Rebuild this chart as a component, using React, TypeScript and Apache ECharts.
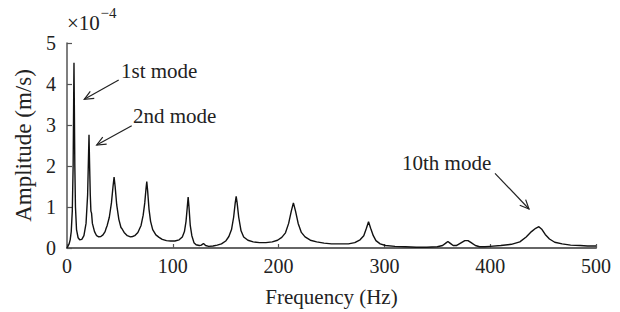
import React, { useEffect, useRef } from "react";
import * as echarts from "echarts";

// Frequency (Hz) and amplitude (×10^-4 m/s)
const freqHz: number[] = [
  0, 1, 2, 3, 4, 5, 5.8, 6.3, 6.6, 6.9, 7.4, 8, 9, 10.5, 12, 14, 16, 18, 19.5, 20.3,
  20.8, 21.3, 22, 22.6, 23.2, 24, 26, 28, 30, 32, 34, 36, 37, 38, 40, 42, 43.5, 44.5,
  45.5, 47, 49, 51, 52, 54, 57, 60, 62, 64, 67, 70, 72, 73.5, 74.7, 75.4, 76.2, 77.5,
  79, 81, 84, 87, 90, 94, 98, 102, 106, 109, 111, 112.5, 113.7, 114.5, 115.3, 116.5,
  118, 120, 122, 125, 127, 129, 131, 134, 138, 142, 146, 150, 153, 155.5, 157.5, 159,
  159.9, 160.8, 162.3, 164.5, 167, 171, 176, 182, 188, 194, 199, 203, 206.5, 209.5,
  212, 214, 216, 218.5, 221.5, 225, 230, 236, 243, 250, 258, 266, 272, 277, 280.5,
  283, 285, 287, 289.5, 292, 296, 301, 310, 320, 330, 340, 350, 355, 358, 360, 362,
  365, 368, 372, 376, 379, 382, 386, 390, 395, 400, 410, 420, 428, 434, 439, 443, 446,
  449, 452, 456, 461, 468, 476, 485, 492, 500,
];
const amplitude: number[] = [
  0, 0.05, 0.1, 0.2, 0.4, 0.9, 2.0, 3.6, 4.52, 3.6, 2.0, 1.0, 0.45, 0.25, 0.2, 0.21, 0.3, 0.6, 1.3, 2.2,
  2.76, 2.1, 1.3, 0.9, 0.85, 0.6, 0.4, 0.3, 0.27, 0.28, 0.32, 0.4, 0.48, 0.55, 0.75, 1.1, 1.5, 1.73,
  1.5, 1.05, 0.7, 0.5, 0.47, 0.38, 0.3, 0.27, 0.28, 0.3, 0.38, 0.55, 0.8, 1.1, 1.45, 1.62, 1.4, 0.95,
  0.65, 0.45, 0.32, 0.26, 0.21, 0.18, 0.17, 0.17, 0.2, 0.27, 0.4, 0.65, 1.0, 1.24, 1.0, 0.55,
  0.3, 0.13, 0.08, 0.06, 0.07, 0.11, 0.06, 0.04, 0.05, 0.07, 0.1, 0.17, 0.28, 0.45, 0.75, 1.1,
  1.26, 1.1, 0.75, 0.42, 0.27, 0.19, 0.15, 0.13, 0.13, 0.15, 0.19, 0.26, 0.37, 0.6,
  0.9, 1.1, 0.9, 0.6, 0.38, 0.27, 0.19, 0.15, 0.12, 0.1, 0.1, 0.1, 0.13, 0.2, 0.3,
  0.48, 0.64, 0.48, 0.3, 0.18, 0.1, 0.06, 0.04, 0.03, 0.02, 0.02, 0.03, 0.06, 0.12, 0.16, 0.12,
  0.06, 0.06, 0.12, 0.18, 0.18, 0.13, 0.06, 0.03, 0.03, 0.04, 0.06, 0.09, 0.15, 0.27, 0.4, 0.48, 0.52,
  0.45, 0.33, 0.22, 0.14, 0.1, 0.07, 0.06, 0.05, 0.05,
];

const xTicks = { min: 0, max: 500, interval: 100 };
const yTicks = { min: 0, max: 5, interval: 1 };

const annotations = [
  { label: "1st mode", tx: 121, ty: 71, from: [118.7, 80], to: [84.3, 99.3] },
  { label: "2nd mode", tx: 133, ty: 116, from: [131.7, 125.7], to: [96.7, 145] },
  { label: "10th mode", tx: 402, ty: 163, from: [495, 173.3], to: [529, 209] },
];

const FONT = "'Liberation Serif', 'DejaVu Serif', serif";

function arrowElements(from: number[], to: number[]) {
  const dx = to[0] - from[0];
  const dy = to[1] - from[1];
  const ang = Math.atan2(dy, dx);
  const len = 10;
  const spread = 0.42;
  const a1 = [to[0] - len * Math.cos(ang - spread), to[1] - len * Math.sin(ang - spread)];
  const a2 = [to[0] - len * Math.cos(ang + spread), to[1] - len * Math.sin(ang + spread)];
  const style = { stroke: "#222", lineWidth: 1.2, fill: null };
  return [
    { type: "line", shape: { x1: from[0], y1: from[1], x2: to[0], y2: to[1] }, style },
    { type: "polyline", shape: { points: [a1, to, a2] }, style },
  ];
}

export default function App() {
  const ref = useRef<HTMLDivElement>(null);

  useEffect(() => {
    if (!ref.current) return;
    const chart = echarts.init(ref.current, null, { renderer: "svg" });
    const data = freqHz.map((f, i) => [f, amplitude[i]]);

    const graphics: any[] = [];
    annotations.forEach((a) => {
      graphics.push({
        type: "text",
        x: a.tx,
        y: a.ty,
        style: { text: a.label, font: `21px ${FONT}`, fill: "#222", textAlign: "left", textVerticalAlign: "middle" },
      });
      graphics.push(...arrowElements(a.from, a.to));
    });
    graphics.push({
      type: "text",
      x: 67,
      y: 23,
      style: { text: "×10", font: `21px ${FONT}`, fill: "#222", textAlign: "left", textVerticalAlign: "middle" },
    });
    graphics.push({
      type: "text",
      x: 100.5,
      y: 13,
      style: { text: "−4", font: `15px ${FONT}`, fill: "#222", textAlign: "left", textVerticalAlign: "middle" },
    });

    chart.setOption({
      animation: false,
      backgroundColor: "#fff",
      grid: { left: 67, right: 24, top: 43, bottom: 61, containLabel: false },
      xAxis: {
        type: "value",
        ...xTicks,
        name: "Frequency (Hz)",
        nameLocation: "middle",
        nameGap: 38,
        nameTextStyle: { fontFamily: FONT, fontSize: 21, color: "#222" },
        axisLine: { show: true, lineStyle: { color: "#666", width: 2 } },
        axisTick: { show: true, inside: true, length: 4, lineStyle: { color: "#555", width: 1.2 } },
        axisLabel: { fontFamily: FONT, fontSize: 20, color: "#222", margin: 8 },
        splitLine: { show: false },
      },
      yAxis: {
        type: "value",
        ...yTicks,
        name: "Amplitude (m/s)",
        nameLocation: "middle",
        nameGap: 31,
        nameTextStyle: { fontFamily: FONT, fontSize: 23, color: "#222" },
        axisLine: { show: true, lineStyle: { color: "#555", width: 1.5 } },
        axisTick: { show: true, inside: true, length: 5, lineStyle: { color: "#555", width: 1.2 } },
        axisLabel: { fontFamily: FONT, fontSize: 20, color: "#222", margin: 11 },
        splitLine: { show: false },
      },
      series: [
        {
          type: "line",
          data,
          showSymbol: false,
          symbol: "none",
          lineStyle: { color: "#111", width: 1.4 },
          z: 3,
        },
      ],
      graphic: graphics,
    });
    return () => chart.dispose();
  }, []);

  return (
    <div
      ref={ref}
      style={{ position: "fixed", left: 0, top: 0, width: 620, height: 312, background: "#fff" }}
    />
  );
}
